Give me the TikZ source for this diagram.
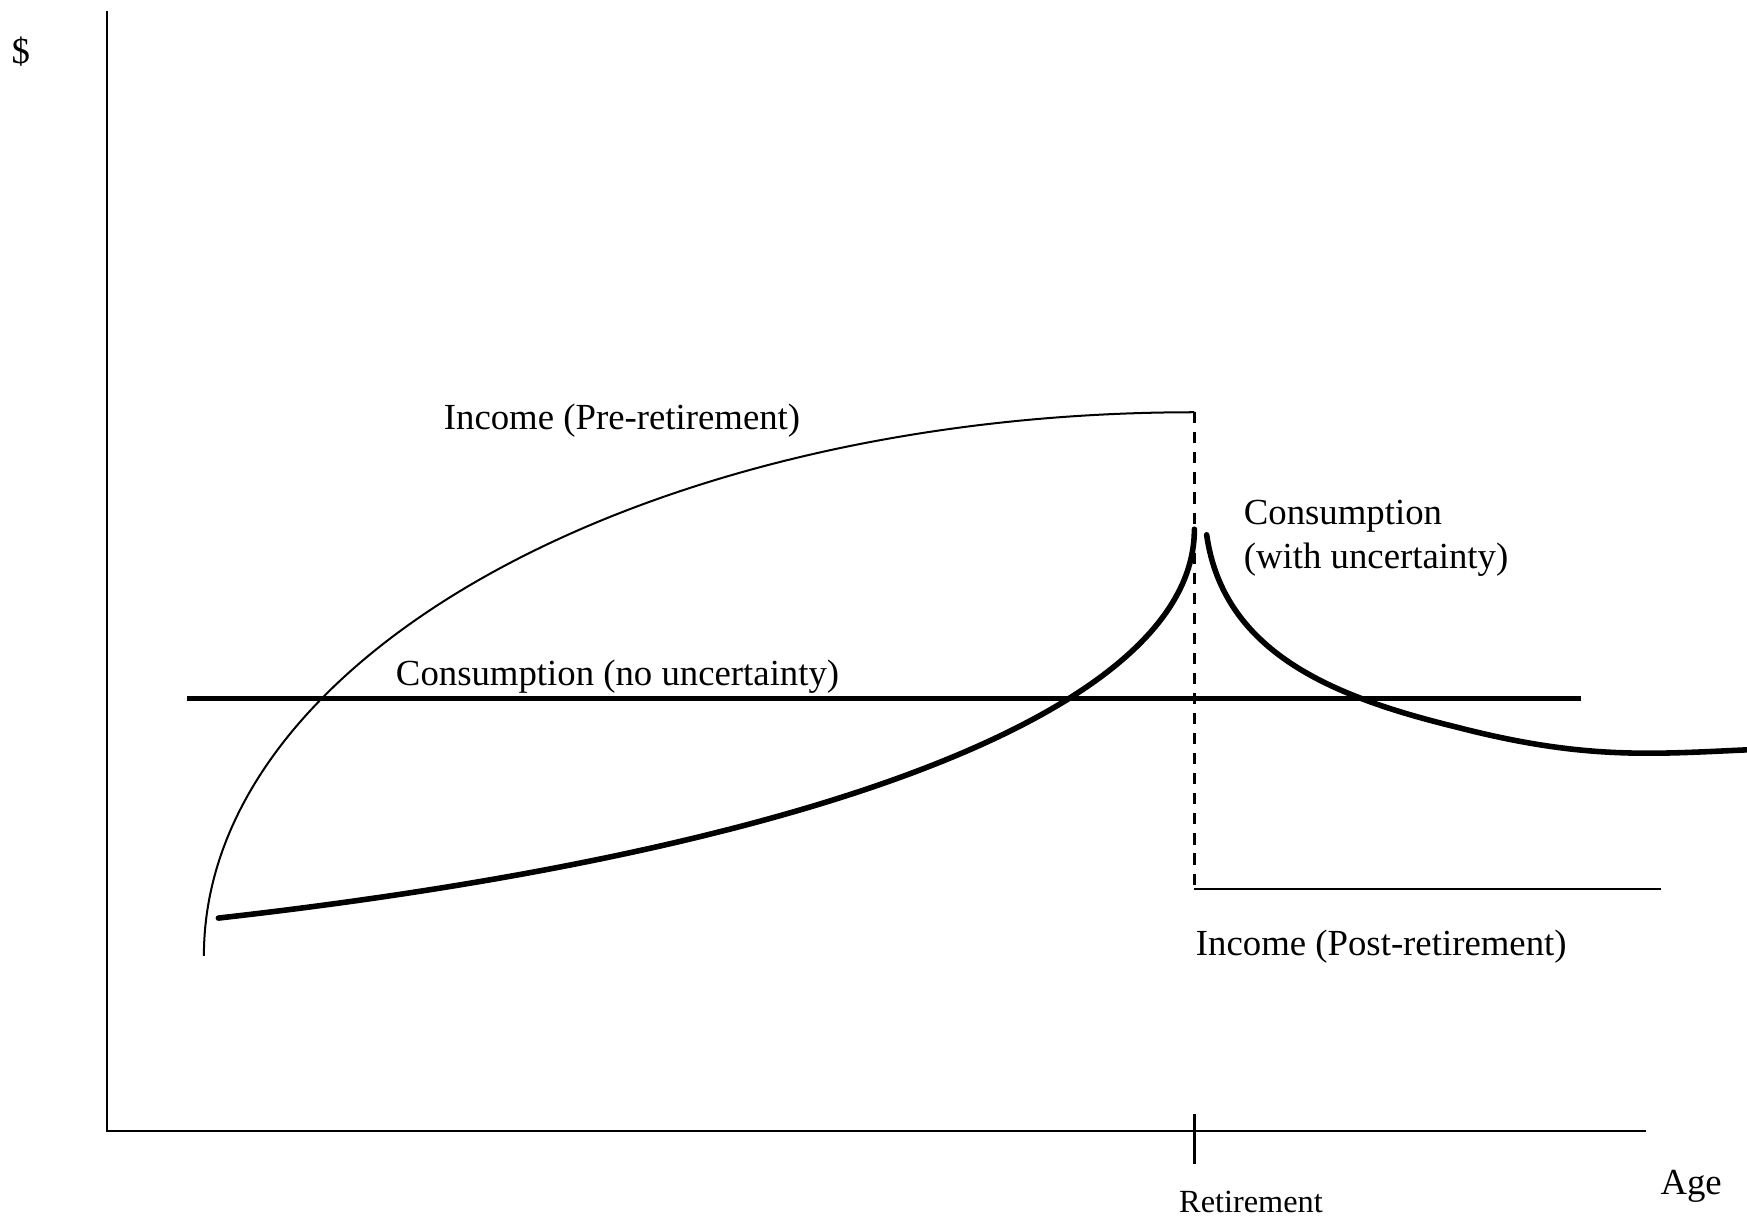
\documentclass[tikz,border=0pt]{standalone}
\usepackage{fontspec}
\setmainfont{Liberation Serif}
\begin{document}
\begin{tikzpicture}[x=0.5pt,y=-0.5pt,
  lbl/.style={anchor=west,inner sep=0pt,font=\fontsize{16.5}{19}\selectfont},
  small/.style={anchor=west,inner sep=0pt,font=\fontsize{14.5}{17}\selectfont},
  axis/.style={line width=1.2pt},
  thin/.style={line width=0.9pt},
  thick/.style={line width=2.5pt,line cap=round},
  dashline/.style={line width=1pt,dash pattern=on 5pt off 4pt}]
\useasboundingbox (0,0) rectangle (1568,1092);
% axes
\coordinate (O) at (96,1015);
\coordinate (Ytop) at (96,10);
\coordinate (Xend) at (1477,1015);
\draw[axis] (Ytop) -- (O) -- (Xend);
\coordinate (T1) at (1072,1000);
\coordinate (T2) at (1072,1045);
\draw[axis] (T1) -- (T2);
% income pre-retirement
\coordinate (I0) at (183,858);
\coordinate (I1) at (1072,370);
\coordinate (I2) at (1072,798);
\coordinate (I3) at (1491,798);
\draw[thin] (I0) arc[start angle=180,end angle=270,x radius=889,y radius=488];
\draw[dashline] (I1) -- (I2);
\draw[thin] (I2) -- (I3);
% consumption no uncertainty
\coordinate (C0) at (168,627);
\coordinate (C1) at (1419,627);
\draw[thick,line cap=butt] (C0) -- (C1);
% consumption with uncertainty
\coordinate (U0) at (196,824);
\coordinate (U1) at (1072,475);
\draw[thick] (U0) .. controls (720,765) and (1072,640) .. (U1);
\coordinate (V0) at (1083,480);
\coordinate (V1) at (1305,652);
\coordinate (V2) at (1568,673);
\draw[thick] (V0) .. controls (1098,585) and (1195,625) .. (V1)
  .. controls (1420,682) and (1480,677) .. (V2);
% labels
\node[lbl] (dollar) at (10,46) {\$};
\node[lbl] (ipre) at (398,378) {Income (Pre-retirement)};
\node[lbl] (cwu1) at (1116,463) {Consumption};
\node[lbl] (cwu2) at (1116,502) {(with uncertainty)};
\node[lbl] (cnu) at (355,607) {Consumption (no uncertainty)};
\node[lbl] (ipost) at (1073,850) {Income (Post-retirement)};
\node[small] (ret) at (1058,1079) {Retirement};
\node[lbl] (age) at (1490,1065) {Age};
\end{tikzpicture}
\end{document}
